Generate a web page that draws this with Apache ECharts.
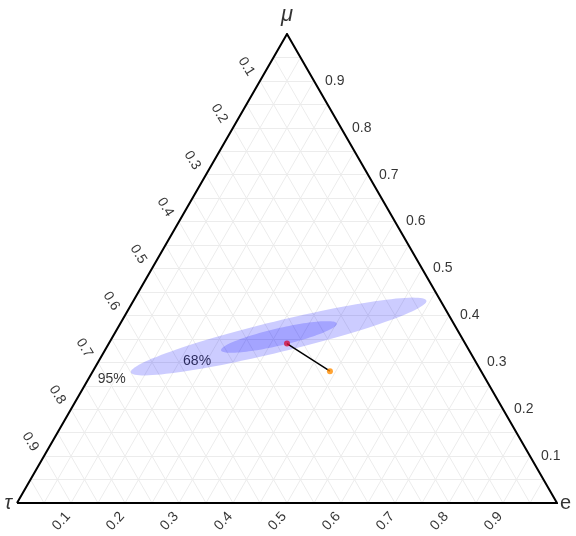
<!DOCTYPE html>
<html>
<head>
<meta charset="utf-8">
<script src="https://cdn.jsdelivr.net/npm/echarts@6/dist/echarts.min.js"></script>
<style>
  html, body { margin: 0; padding: 0; background: #fff; }
  #chart { width: 576px; height: 536px; }
</style>
</head>
<body>
<div id="chart"></div>
<script>
// ternary axes: mu (top), tau (bottom left), e (bottom right)
const tickValues = [0.1, 0.2, 0.3, 0.4, 0.5, 0.6, 0.7, 0.8, 0.9]
const tickLabels = ['0.1', '0.2', '0.3', '0.4', '0.5', '0.6', '0.7', '0.8', '0.9']
const gridValues = [0.05, 0.1, 0.15, 0.2, 0.25, 0.3, 0.35, 0.4, 0.45, 0.5,
  0.55, 0.6, 0.65, 0.7, 0.75, 0.8, 0.85, 0.9, 0.95]
const axisTitles = ['μ', 'τ', 'e']

// confidence ellipses (centre as mu/e fractions, semi-axes in triangle-side units)
const ellipseNames = ['95%', '68%']
const ellipseMu = [0.355, 0.354]
const ellipseE = [0.307, 0.308]
const ellipseMajor = [0.2815, 0.110]
const ellipseMinor = [0.0287, 0.0160]
const ellipseAngle = [13.6, 13.0]
const ellipseLabelMu = [0.265, 0.303]
const ellipseLabelE = [0.043, 0.182]

// best fit point and reference point
const pointNames = ['fit', 'reference']
const pointMu = [0.340, 0.281]
const pointE = [0.330, 0.439]

const H = Math.sqrt(3) / 2
const toXY = (mu, e) => [e + mu / 2, mu * H]
const PX = 1 / 540 // one pixel in data units

const chart = echarts.init(document.getElementById('chart'))
const font = 'Liberation Sans, Arial, Helvetica, sans-serif'

// grid segments
const gridSegs = []
gridValues.forEach(v => {
  gridSegs.push({ coords: [toXY(v, 0), toXY(v, 1 - v)] })       // const mu
  gridSegs.push({ coords: [toXY(0, v), toXY(1 - v, v)] })       // const e
  gridSegs.push({ coords: [toXY(0, 1 - v), toXY(1 - v, 0)] })   // const tau
})

const ellipsePoints = (i) => {
  const c = toXY(ellipseMu[i], ellipseE[i])
  const a = ellipseMajor[i], b = ellipseMinor[i]
  const th = ellipseAngle[i] * Math.PI / 180
  const pts = []
  for (let k = 0; k < 120; k++) {
    const t = 2 * Math.PI * k / 120
    pts.push([
      c[0] + a * Math.cos(th) * Math.cos(t) - b * Math.sin(th) * Math.sin(t),
      c[1] + a * Math.sin(th) * Math.cos(t) + b * Math.cos(th) * Math.sin(t)
    ])
  }
  return pts
}

const tickSeries = (data, rotate, align) => ({
  type: 'scatter',
  symbolSize: 0,
  silent: true,
  clip: false,
  z: 4,
  data: data,
  label: {
    show: true,
    position: 'inside',
    formatter: p => p.data.name,
    rotate: rotate,
    align: align,
    verticalAlign: 'middle',
    fontFamily: font,
    fontSize: 14,
    color: '#000'
  }
})

const rightTicks = tickValues.map((v, i) => {
  const p = toXY(v, 1 - v)
  return { name: tickLabels[i], value: [p[0] + 11 * PX, p[1]] }
})
const bottomTicks = tickValues.map((v, i) => {
  const p = toXY(0, v)
  return { name: tickLabels[i], value: [p[0] - 3 * PX, p[1] - 11 * PX] }
})
const leftTicks = tickValues.map((v, i) => {
  const p = toXY(1 - v, 0)
  return { name: tickLabels[i], value: [p[0] - 8.5 * PX, p[1] + 6 * PX] }
})

const option = {
  animation: false,
  grid: { left: 17, top: 34, width: 540, height: 469 },
  xAxis: { type: 'value', min: 0, max: 1, show: false },
  yAxis: { type: 'value', min: 0, max: H, show: false },
  series: [
    {
      type: 'lines',
      coordinateSystem: 'cartesian2d',
      silent: true,
      z: 1,
      lineStyle: { color: '#ececec', width: 1, opacity: 1 },
      data: gridSegs
    },
    {
      type: 'scatter',
      symbolSize: 0,
      silent: true,
      z: 2,
      data: ellipseNames.map((n, i) => ({ name: n, value: toXY(ellipseLabelMu[i], ellipseLabelE[i]) })),
      label: {
        show: true,
        position: 'inside',
        formatter: p => p.data.name,
        fontFamily: font,
        fontSize: 14,
        color: '#000'
      }
    },
    {
      type: 'custom',
      silent: true,
      z: 3,
      clip: false,
      data: ellipseNames.map((n, i) => toXY(ellipseMu[i], ellipseE[i]).concat([i])),
      renderItem: (params, api) => {
        const i = api.value(2)
        return {
          type: 'polygon',
          shape: { points: ellipsePoints(i).map(p => api.coord(p)) },
          style: { fill: 'rgba(0,0,255,0.2)', stroke: null }
        }
      }
    },
    {
      type: 'lines',
      coordinateSystem: 'cartesian2d',
      polyline: true,
      silent: true,
      z: 4,
      lineStyle: { color: '#000', width: 2, opacity: 1, join: 'miter' },
      data: [{ coords: [toXY(0, 0), toXY(1, 0), toXY(0, 1), toXY(0, 0)] }]
    },
    {
      type: 'line',
      silent: true,
      z: 5,
      symbol: 'none',
      lineStyle: { color: '#000', width: 1.5 },
      data: pointNames.map((n, i) => toXY(pointMu[i], pointE[i]))
    },
    {
      type: 'scatter',
      silent: true,
      z: 6,
      symbolSize: 6,
      data: pointNames.map((n, i) => ({
        name: n,
        value: toXY(pointMu[i], pointE[i]),
        itemStyle: { color: i === 0 ? '#d6103c' : '#ff8c00' }
      }))
    },
    tickSeries(rightTicks, 0, 'left'),
    tickSeries(bottomTicks, 48, 'right'),
    tickSeries(leftTicks, -58, 'right'),
    {
      type: 'scatter',
      symbolSize: 0,
      silent: true,
      clip: false,
      z: 4,
      data: [
        { name: axisTitles[0], value: toXY(1, 0), label: { position: 'top', distance: 8, fontStyle: 'italic', fontSize: 22 } },
        { name: axisTitles[1], value: toXY(0, 0), label: { position: 'left', distance: 5, fontStyle: 'italic' } },
        { name: axisTitles[2], value: toXY(0, 1), label: { position: 'right', distance: 3 } }
      ],
      label: {
        show: true,
        formatter: p => p.data.name,
        fontFamily: font,
        fontSize: 20,
        color: '#000'
      }
    }
  ]
}

chart.setOption(option)
</script>
</body>
</html>
